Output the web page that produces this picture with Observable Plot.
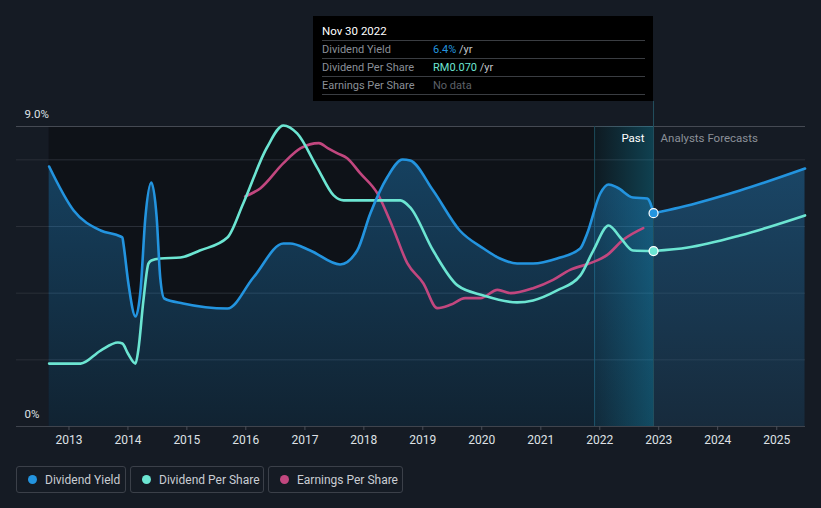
<!DOCTYPE html>
<html><head><meta charset="utf-8">
<script src="https://cdn.jsdelivr.net/npm/d3@7"></script>
<script src="https://cdn.jsdelivr.net/npm/@observablehq/plot@0.6"></script>
<style>
html,body{margin:0;padding:0;background:#151b24;}
#wrap{position:relative;width:821px;height:508px;background:#151b24;font-family:Roboto,"Open Sans",sans-serif;overflow:hidden;}
#chart{position:absolute;left:0;top:0;}
#tip{position:absolute;left:313px;top:16px;width:340px;height:85px;background:#000;box-sizing:border-box;padding:0 8px 0 9px;font-size:11px;}
#tip .row{box-sizing:border-box;border-bottom:1px solid #3a3d42;white-space:nowrap;}
#tip .title{height:25px;padding-top:6px;line-height:18px;color:#fff;font-size:11.5px;}
#tip .r{height:18px;line-height:17px;color:#8a8f97;}
#tip .lab{display:inline-block;width:111px;}
#legend{position:absolute;left:16px;top:466px;display:flex;gap:4px;}
#legend .item{box-sizing:border-box;height:27px;border:1px solid #3b4049;border-radius:3px;display:flex;align-items:center;padding-left:11px;color:#c9cdd3;font-size:12px;}
#legend .dot{width:9px;height:9px;border-radius:50%;margin-right:8px;}
</style></head>
<body>
<svg width="0" height="0" style="position:absolute">
 <defs>
  <linearGradient id="dyGrad" x1="0" y1="0" x2="0" y2="1">
   <stop offset="0" stop-color="#2394df" stop-opacity="0.36"/>
   <stop offset="1" stop-color="#2394df" stop-opacity="0.13"/>
  </linearGradient>
  <linearGradient id="pastGrad" x1="0" y1="0" x2="1" y2="0">
   <stop offset="0" stop-color="#12a4c8" stop-opacity="0.05"/>
   <stop offset="1" stop-color="#12a4c8" stop-opacity="0.32"/>
  </linearGradient>
 </defs>
</svg>
<div id="wrap">
 <div id="chart"></div>
 <div id="tip">
  <div class="row title">Nov 30 2022</div>
  <div class="row r"><span class="lab">Dividend Yield</span><span style="color:#2394df">6.4%</span><span style="color:#c3c6cb"> /yr</span></div>
  <div class="row r"><span class="lab">Dividend Per Share</span><span style="color:#6ce5d2">RM0.070</span><span style="color:#c3c6cb"> /yr</span></div>
  <div class="row r"><span class="lab">Earnings Per Share</span><span style="color:#5d6168">No data</span></div>
 </div>
 <div id="legend"></div>
</div>
<script>
// ---- Data ----
const dyDates = ["2012-08-31","2013-01-30","2013-07-16","2013-11-17","2013-11-28","2013-12-04","2014-01-04","2014-02-17","2014-03-20","2014-04-19","2014-05-26","2014-06-28","2014-07-20","2014-08-14","2014-12-09","2015-09-09","2016-02-17","2016-08-21","2016-10-01","2017-02-03","2017-08-07","2017-11-21","2018-02-10","2018-05-25","2018-08-29","2018-10-15","2019-03-06","2019-08-18","2020-01-12","2020-04-23","2020-08-07","2020-11-14","2021-04-12","2021-09-02","2021-10-15","2022-01-04","2022-02-25","2022-04-19","2022-07-26","2022-10-22","2022-11-30"];
const dyValues = [7.80,6.48,5.88,5.70,5.67,5.49,4.29,3.30,4.08,6.27,7.32,6.27,4.47,3.84,3.69,3.54,4.47,5.49,5.49,5.28,4.86,5.28,6.39,7.47,8.01,7.98,7.08,5.88,5.34,5.04,4.89,4.89,5.04,5.34,5.79,6.99,7.26,7.17,6.87,6.84,6.4];
const dyForecastDates = ["2022-11-30","2023-05-10","2024-05-18","2025-06-25"];
const dyForecastValues = [6.4,6.57,7.08,7.74];

const dpsDates = ["2012-08-31","2013-03-14","2013-07-16","2013-10-31","2013-11-28","2014-01-01","2014-02-17","2014-03-06","2014-04-07","2014-05-08","2014-05-26","2014-07-20","2014-11-22","2015-03-22","2015-09-09","2015-12-16","2016-05-11","2016-08-21","2016-11-14","2017-03-18","2017-06-28","2017-08-29","2018-08-15","2018-10-15","2019-03-06","2019-08-04","2020-01-12","2020-08-07","2020-11-14","2021-04-12","2021-09-02","2021-11-22","2022-02-25","2022-05-08","2022-07-26","2022-11-30"];
const dpsValues = [0.0251,0.0251,0.0303,0.0335,0.0331,0.0291,0.0251,0.0303,0.0503,0.0650,0.0662,0.0670,0.0674,0.0702,0.0754,0.0890,0.1113,0.1201,0.1169,0.1033,0.0922,0.0902,0.0902,0.0874,0.0702,0.0563,0.0523,0.0495,0.0503,0.0543,0.0602,0.0702,0.0802,0.0754,0.0702,0.0700];
const dpsForecastDates = ["2022-11-30","2023-07-01","2024-05-18","2025-06-25"];
const dpsForecastValues = [0.0700,0.0714,0.0762,0.0842];

const epsDates = ["2015-12-28","2016-04-01","2016-08-21","2016-12-06","2017-03-29","2017-05-22","2017-07-19","2017-09-20","2017-12-09","2018-03-25","2018-07-01","2018-09-27","2019-01-04","2019-04-01","2019-06-21","2019-09-20","2019-12-24","2020-04-08","2020-06-28","2020-11-14","2021-03-18","2021-07-01","2021-11-03","2022-02-17","2022-05-26","2022-09-27"];
const epsValues = [0.138,0.143,0.158,0.167,0.170,0.167,0.164,0.161,0.152,0.140,0.119,0.098,0.086,0.071,0.073,0.077,0.077,0.082,0.080,0.083,0.088,0.094,0.098,0.103,0.112,0.119];

const tickYears = [2013,2014,2015,2016,2017,2018,2019,2020,2021,2022,2023,2024,2025];
const gridValues = [2,4,6,8];
const colors = {dy:"#2394df", dps:"#6ce5d2", eps:"#c2477f"};
const seriesNames = ["Dividend Yield","Dividend Per Share","Earnings Per Share"];

// secondary series are drawn against the yield axis
const DPS_SCALE = 75.2;   // RM -> axis units
const EPS_SCALE = 50;     // RM -> axis units

const parse = d3.utcParse("%Y-%m-%d");
const rows = (ds, vs) => ds.map((d,i) => ({date: parse(d), v: vs[i]}));
const dy = rows(dyDates, dyValues);
const dyF = rows(dyForecastDates, dyForecastValues);
const dps = rows(dpsDates, dpsValues);
const dpsF = rows(dpsForecastDates, dpsForecastValues);
const eps = rows(epsDates, epsValues);
const nowDate = parse("2022-11-30");
const pastStart = parse("2021-11-30");
const xStart = parse("2012-02-11"), xEnd = parse("2025-06-28");
const ticks = tickYears.map(y => new Date(Date.UTC(y,0,1)));
const curve = "monotone-x";

const chart = Plot.plot({
  width: 821, height: 460,
  marginLeft: 16, marginRight: 16, marginTop: 126, marginBottom: 34,
  style: {background: "transparent", fontFamily: "Roboto, sans-serif", fontSize: "12px", color: "#dfe2e6", overflow: "visible"},
  x: {type: "utc", domain: [xStart, xEnd]},
  y: {domain: [0, 9], axis: null},
  marks: [
    Plot.rect([{a: dy[0].date, b: nowDate}], {x1: "a", x2: "b", y1: 0, y2: 9, fill: "#0e1218"}),
    Plot.ruleY(gridValues, {stroke: "#2a2f38", strokeWidth: 1}),
    Plot.ruleY([9], {stroke: "#454a53", strokeWidth: 1}),
    Plot.rect([{a: pastStart, b: nowDate}], {x1: "a", x2: "b", y1: 0, y2: 9, fill: "url(#pastGrad)"}),
    Plot.ruleX([pastStart], {y1: 0, y2: 9, stroke: "#1c4a5a", strokeWidth: 1}),
    Plot.areaY(dy.concat(dyF.slice(1)), {x: "date", y: "v", fill: "url(#dyGrad)", curve}),
    Plot.ruleX([nowDate], {y1: 0, y2: 9.75, stroke: "#24505e", strokeWidth: 1}),
    Plot.ruleY([0], {stroke: "#3f444d", strokeWidth: 1}),
    Plot.axisX({ticks, tickFormat: d => String(d.getUTCFullYear()), tickSize: 4, tickPadding: 5, stroke: "#4a4f58", fill: "#dfe2e6", fontSize: 12}),
    Plot.line(eps, {x: "date", y: d => d.v * EPS_SCALE, stroke: colors.eps, strokeWidth: 2.6, curve}),
    Plot.line(dps, {x: "date", y: d => d.v * DPS_SCALE, stroke: colors.dps, strokeWidth: 2.6, curve}),
    Plot.line(dpsF, {x: "date", y: d => d.v * DPS_SCALE, stroke: colors.dps, strokeWidth: 2.6, curve}),
    Plot.line(dy, {x: "date", y: "v", stroke: colors.dy, strokeWidth: 2.6, curve}),
    Plot.line(dyF, {x: "date", y: "v", stroke: colors.dy, strokeWidth: 2.6, curve}),
    Plot.dot([dps[dps.length-1]], {x: "date", y: d => d.v * DPS_SCALE, r: 4.5, fill: colors.dps, stroke: "#ffffff", strokeWidth: 1.2}),
    Plot.dot([dy[dy.length-1]], {x: "date", y: "v", r: 4.5, fill: colors.dy, stroke: "#ffffff", strokeWidth: 1.2}),
    Plot.text([{date: xStart, v: 9, t: "9.0%"}], {x: "date", y: "v", text: "t", dx: 8, dy: -12, textAnchor: "start", fill: "#dfe2e6", fontSize: 11.5}),
    Plot.text([{date: xStart, v: 0, t: "0%"}], {x: "date", y: "v", text: "t", dx: 8, dy: -12, textAnchor: "start", fill: "#dfe2e6", fontSize: 11.5}),
    Plot.text([{date: nowDate, v: 9, t: "Past"}], {x: "date", y: "v", text: "t", dx: -9, dy: 12, textAnchor: "end", fill: "#ffffff", fontSize: 11.5}),
    Plot.text([{date: nowDate, v: 9, t: "Analysts Forecasts"}], {x: "date", y: "v", text: "t", dx: 7, dy: 12, textAnchor: "start", fill: "#8b9098", fontSize: 11.5})
  ]
});
document.getElementById("chart").appendChild(chart);

const legendWidths = [110, 134, 135];
const legendColors = [colors.dy, colors.dps, colors.eps];
const legend = document.getElementById("legend");
seriesNames.forEach((name, i) => {
  const item = document.createElement("div");
  item.className = "item";
  item.style.width = legendWidths[i] + "px";
  item.innerHTML = `<span class="dot" style="background:${legendColors[i]}"></span><span>${name}</span>`;
  legend.appendChild(item);
});
</script>
</body></html>
